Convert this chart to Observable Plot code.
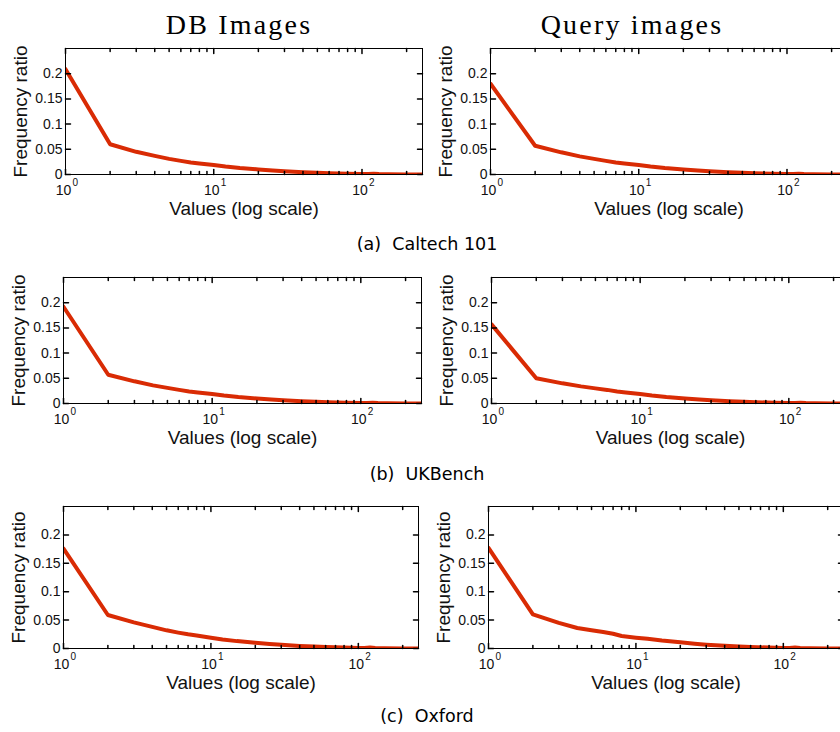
<!DOCTYPE html>
<html>
<head>
<meta charset="utf-8">
<script src="https://cdn.jsdelivr.net/npm/d3@7"></script>
<script src="https://cdn.jsdelivr.net/npm/@observablehq/plot@0.6"></script>
<style>
  html, body { margin: 0; padding: 0; background: #fff; overflow: hidden; }
  #root { position: relative; width: 840px; height: 732px; overflow: hidden; background: #fff; }
  .abs { position: absolute; }
  .title { font-family: "Liberation Serif", "DejaVu Serif", serif; font-size: 28px; letter-spacing: 2.2px; line-height: 28px; white-space: nowrap; transform: translateX(-50%); color: #000; }
  .caption { font-family: "DejaVu Sans", "Liberation Sans", sans-serif; font-size: 17.5px; line-height: 20px; white-space: nowrap; transform: translateX(-50%); color: #000; }
</style>
</head>
<body>
<div id="root"></div>
<script>
// ---- data ----
const columnTitles = ["DB Images", "Query images"];
const rowCaptions = ["(a)\u00a0 Caltech 101", "(b)\u00a0 UKBench", "(c)\u00a0 Oxford"];
const xValues = [1,2,3,4,5,6,7,8,10,12,15,20,25,30,40,50,60,80,100,110,120,130,150,200,256];
const caltechDB    = [0.209,0.060,0.045,0.037,0.031,0.027,0.024,0.022,0.019,0.016,0.013,0.0100,0.0080,0.0065,0.0045,0.0033,0.0025,0.0016,0.0011,0.0009,0.0016,0.0008,0.0005,0.0002,0.0001];
const caltechQuery = [0.180,0.057,0.044,0.036,0.031,0.027,0.024,0.022,0.019,0.016,0.013,0.0100,0.0080,0.0065,0.0046,0.0034,0.0026,0.0016,0.0011,0.0009,0.0017,0.0008,0.0005,0.0002,0.0001];
const ukbenchDB    = [0.192,0.057,0.044,0.036,0.031,0.027,0.024,0.022,0.019,0.016,0.013,0.0100,0.0080,0.0065,0.0045,0.0033,0.0025,0.0016,0.0011,0.0009,0.0015,0.0008,0.0005,0.0002,0.0001];
const ukbenchQuery = [0.157,0.050,0.040,0.034,0.030,0.027,0.024,0.022,0.019,0.016,0.013,0.0100,0.0080,0.0066,0.0046,0.0034,0.0026,0.0017,0.0011,0.0009,0.0016,0.0008,0.0005,0.0002,0.0001];
const oxfordDB     = [0.176,0.059,0.046,0.038,0.032,0.028,0.025,0.023,0.019,0.016,0.013,0.0100,0.0080,0.0066,0.0046,0.0034,0.0026,0.0017,0.0011,0.0009,0.0016,0.0008,0.0005,0.0002,0.0001];
const oxfordQuery  = [0.177,0.060,0.045,0.036,0.032,0.029,0.026,0.022,0.019,0.017,0.014,0.0110,0.0085,0.0068,0.0047,0.0035,0.0026,0.0017,0.0011,0.0009,0.0016,0.0008,0.0005,0.0002,0.0001];
const majorXTicks = [1, 10, 100];
const majorXExponents = ["0", "1", "2"];
const minorXTicks = [2,3,4,5,6,7,8,9,20,30,40,50,60,70,80,90,200];
const yTicks = [0, 0.05, 0.1, 0.15, 0.2];
const yTickLabels = ["0", "0.05", "0.1", "0.15", "0.2"];
const xDomain = [1, 256];
const yDomain = [0, 0.25];

const lineColor = "#d92b04";
const root = document.getElementById("root");

const tickShape = {draw(context, l) { context.moveTo(0, 0); context.lineTo(0, -l); }};

function panel(values, {left, top, plotW, plotH}) {
  const data = xValues.map((x, i) => ({x, y: values[i]}));
  const mT = 10, mL = 70, mR = 10, mB = 46;
  const major = majorXTicks.map((v, i) => ({v, e: majorXExponents[i]}));
  const yt = yTicks.map((v, i) => ({v, t: yTickLabels[i]}));
  const chart = Plot.plot({
    width: mL + plotW + mR,
    height: mT + plotH + mB,
    marginTop: mT, marginLeft: mL, marginRight: mR, marginBottom: mB,
    style: {background: "transparent", overflow: "visible", maxWidth: "none", fontFamily: "Liberation Sans, Arial, sans-serif"},
    x: {type: "log", domain: xDomain, axis: null},
    y: {domain: yDomain, axis: null},
    marks: [
      Plot.line(data, {x: "x", y: "y", stroke: lineColor, strokeWidth: 4, strokeLinejoin: "round", clip: true}),
      Plot.frame({stroke: "black", strokeWidth: 1}),
      // inward ticks
      Plot.vector(majorXTicks, {x: d => d, y: () => 0, length: 5, rotate: 0, anchor: "start", shape: tickShape, stroke: "black"}),
      Plot.vector(majorXTicks, {x: d => d, y: () => 0.25, length: 5, rotate: 180, anchor: "start", shape: tickShape, stroke: "black"}),
      Plot.vector(minorXTicks, {x: d => d, y: () => 0, length: 3, rotate: 0, anchor: "start", shape: tickShape, stroke: "black"}),
      Plot.vector(minorXTicks, {x: d => d, y: () => 0.25, length: 3, rotate: 180, anchor: "start", shape: tickShape, stroke: "black"}),
      Plot.vector(yTicks, {x: () => 1, y: d => d, length: 5, rotate: 90, anchor: "start", shape: tickShape, stroke: "black"}),
      Plot.vector(yTicks, {x: () => 256, y: d => d, length: 5, rotate: -90, anchor: "start", shape: tickShape, stroke: "black"}),
      // y tick labels
      Plot.text(yt, {y: "v", text: "t", frameAnchor: "left", dx: -3, textAnchor: "end", fontSize: 14, fill: "#111"}),
      // x tick labels with exponent
      Plot.text(major, {x: "v", text: () => "10", frameAnchor: "bottom", dx: -2, dy: 16, textAnchor: "middle", lineAnchor: "middle", fontSize: 14, fill: "#111"}),
      Plot.text(major, {x: "v", text: "e", frameAnchor: "bottom", dx: 7, dy: 8, textAnchor: "start", lineAnchor: "middle", fontSize: 10, fill: "#111"}),
      // axis labels
      Plot.text(["Values (log scale)"], {frameAnchor: "bottom", dy: 34, textAnchor: "middle", lineAnchor: "middle", fontSize: 19, fill: "#111"}),
      Plot.text(["Frequency ratio"], {frameAnchor: "left", dx: -39, rotate: -90, textAnchor: "middle", lineAnchor: "bottom", fontSize: 19, fill: "#111"})
    ]
  });
  const div = document.createElement("div");
  div.className = "abs";
  div.style.left = (left - mL) + "px";
  div.style.top = (top - mT) + "px";
  div.style.width = (mL + plotW + mR) + "px";
  div.appendChild(chart);
  root.appendChild(div);
}

const rows = [
  {series: [caltechDB, caltechQuery], top: 48, plotH: 126, lefts: [65, 490], plotW: 357},
  {series: [ukbenchDB, ukbenchQuery], top: 277, plotH: 126, lefts: [63, 491], plotW: 358},
  {series: [oxfordDB, oxfordQuery], top: 506, plotH: 142, lefts: [63, 488], plotW: 355}
];
rows.forEach(r => r.series.forEach((s, j) => panel(s, {left: r.lefts[j], top: r.top, plotW: r.plotW, plotH: r.plotH})));

// column titles
const titleX = [239, 632];
columnTitles.forEach((t, i) => {
  const d = document.createElement("div");
  d.className = "abs title";
  d.style.left = titleX[i] + "px";
  d.style.top = "11px";
  d.textContent = t;
  root.appendChild(d);
});
// row captions
const captionY = [244, 474, 716];
rowCaptions.forEach((t, i) => {
  const d = document.createElement("div");
  d.className = "abs caption";
  d.style.left = "427px";
  d.style.top = (captionY[i] - 10) + "px";
  d.textContent = t;
  root.appendChild(d);
});
</script>
</body>
</html>
